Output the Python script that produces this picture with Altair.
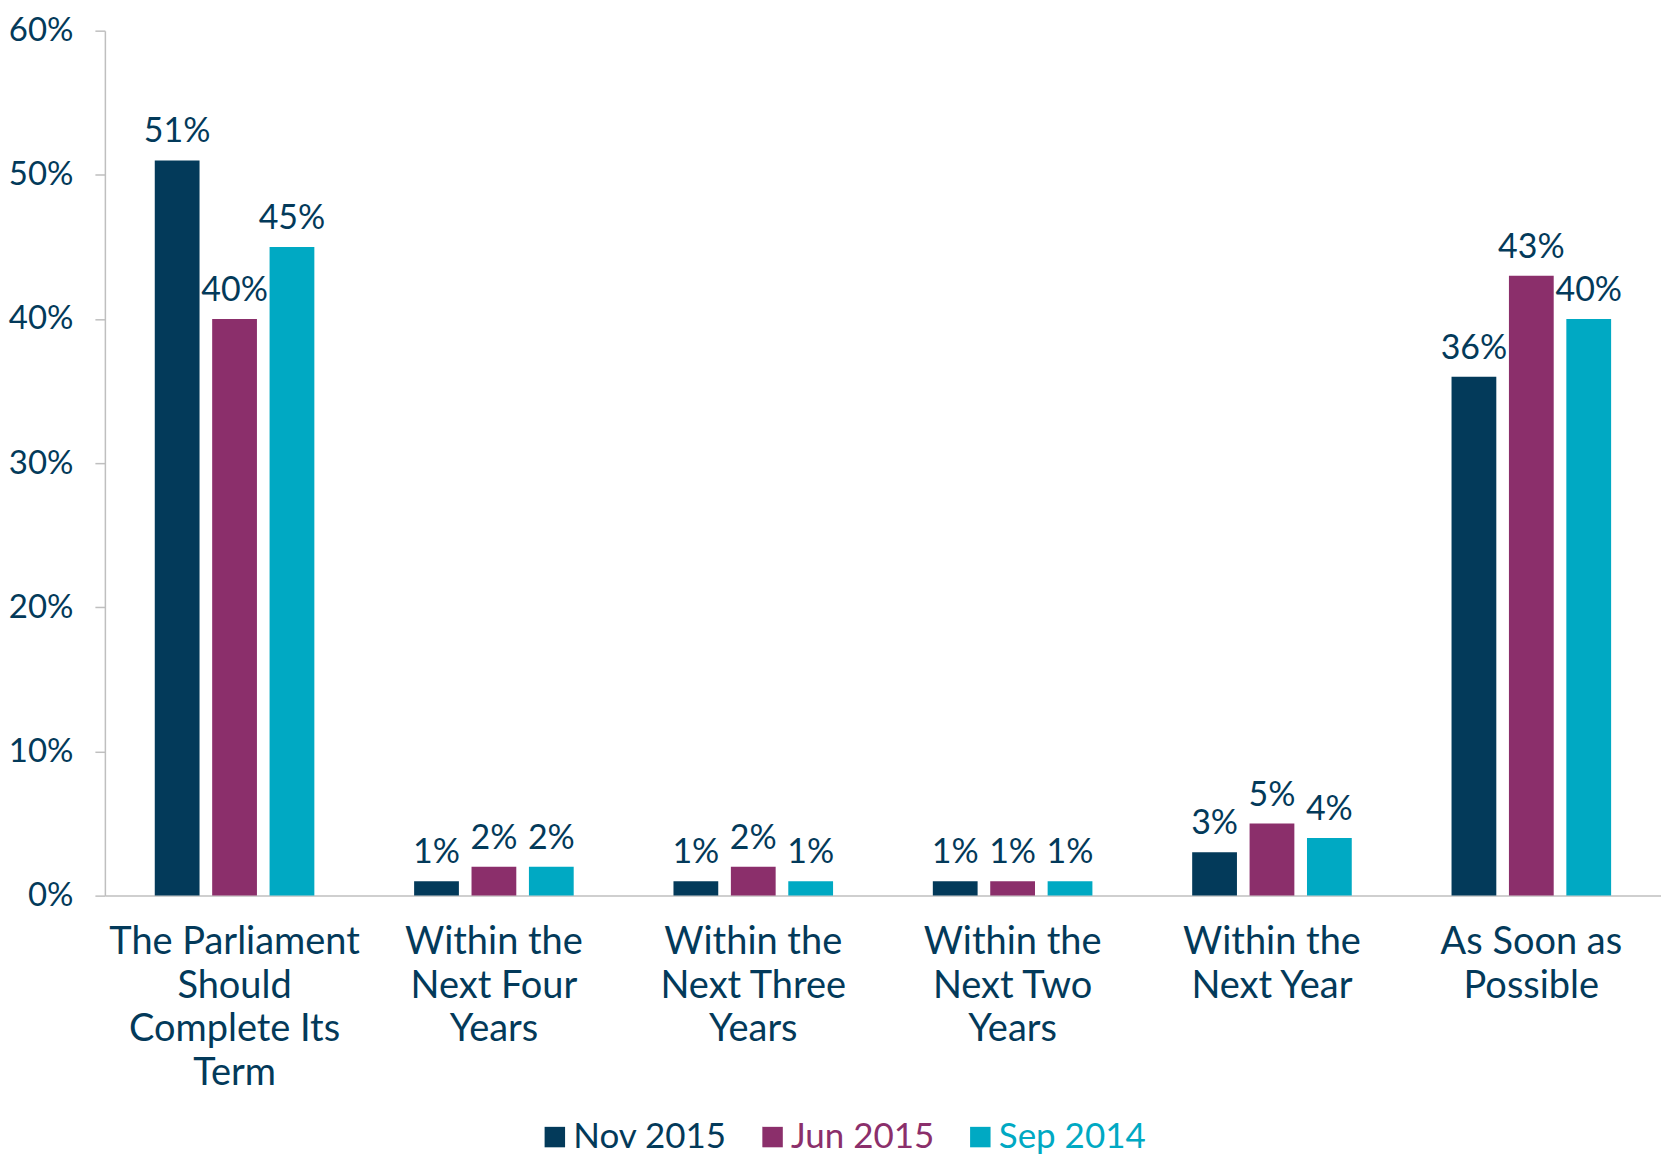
import json
import altair as alt
import pandas as pd

category_lines = [
    ["The Parliament", "Should", "Complete Its", "Term"],
    ["Within the", "Next Four", "Years"],
    ["Within the", "Next Three", "Years"],
    ["Within the", "Next Two", "Years"],
    ["Within the", "Next Year"],
    ["As Soon as", "Possible"],
]
categories = [" ".join(l) for l in category_lines]
series = ["Nov 2015", "Jun 2015", "Sep 2014"]
nov_2015 = [51, 1, 1, 1, 3, 36]
jun_2015 = [40, 2, 2, 1, 5, 43]
sep_2014 = [45, 2, 1, 1, 4, 40]
colors = ["#033A5A", "#8B2F6B", "#00A9C3"]
y_ticks = [0, 0.1, 0.2, 0.3, 0.4, 0.5, 0.6]

rows = []
for s, vals in zip(series, [nov_2015, jun_2015, sep_2014]):
    for c, v in zip(categories, vals):
        rows.append({"category": c, "series": s, "value": v / 100})
df = pd.DataFrame(rows)

FONT = "Lato"
TEXT = "#033A5A"
GRAY = "#BFBFBF"
label_map = json.dumps(dict(zip(categories, category_lines)))
color_expr = (
    f"datum.value == '{series[0]}' ? '{colors[0]}' : "
    f"datum.value == '{series[1]}' ? '{colors[1]}' : '{colors[2]}'"
)

base = alt.Chart(df).encode(
    x=alt.X(
        "category:N",
        sort=categories,
        scale=alt.Scale(paddingInner=0.336, paddingOuter=0.168),
        axis=alt.Axis(
            title=None, labelAngle=0, labelExpr=f"{label_map}[datum.value]",
            labelFont=FONT, labelFontSize=38, labelColor=TEXT,
            labelLineHeight=43.6, labelPadding=28, labelLimit=500,
            ticks=False, domainColor=GRAY, domainWidth=1.5,
        ),
    ),
    xOffset=alt.XOffset("series:N", sort=series,
                        scale=alt.Scale(paddingInner=0.22, paddingOuter=0.11)),
)

bars = base.mark_bar().encode(
    y=alt.Y(
        "value:Q",
        scale=alt.Scale(domain=[0, 0.6]),
        axis=alt.Axis(
            title=None, format=".0%", values=y_ticks, grid=False,
            labelFont=FONT, labelFontSize=33, labelColor=TEXT,
            tickColor=GRAY, tickSize=10, tickWidth=1.5,
            domainColor=GRAY, domainWidth=1.5, labelPadding=22,
        ),
    ),
    color=alt.Color(
        "series:N", sort=series,
        scale=alt.Scale(domain=series, range=colors),
        legend=alt.Legend(
            title=None, orient="none", legendX=433, legendY=1090,
            direction="horizontal",
            symbolType="square", symbolSize=420, symbolStrokeWidth=0,
            labelFont=FONT, labelFontSize=35, labelColor={"expr": color_expr},
            labelLimit=400, columnPadding=28, labelOffset=1,
        ),
    ),
)

labels = base.mark_text(
    baseline="alphabetic", dy=-18, font=FONT, fontSize=34, color=TEXT
).encode(
    y=alt.Y("value:Q"),
    text=alt.Text("value:Q", format=".0%"),
)

chart = (
    alt.layer(bars, labels)
    .properties(width=1558, height=866,
                padding={"left": 0, "top": 6, "right": 0, "bottom": 0})
    .configure_view(stroke=None)
)

chart.save("out.html", embed_options={"renderer": "svg", "actions": False})
